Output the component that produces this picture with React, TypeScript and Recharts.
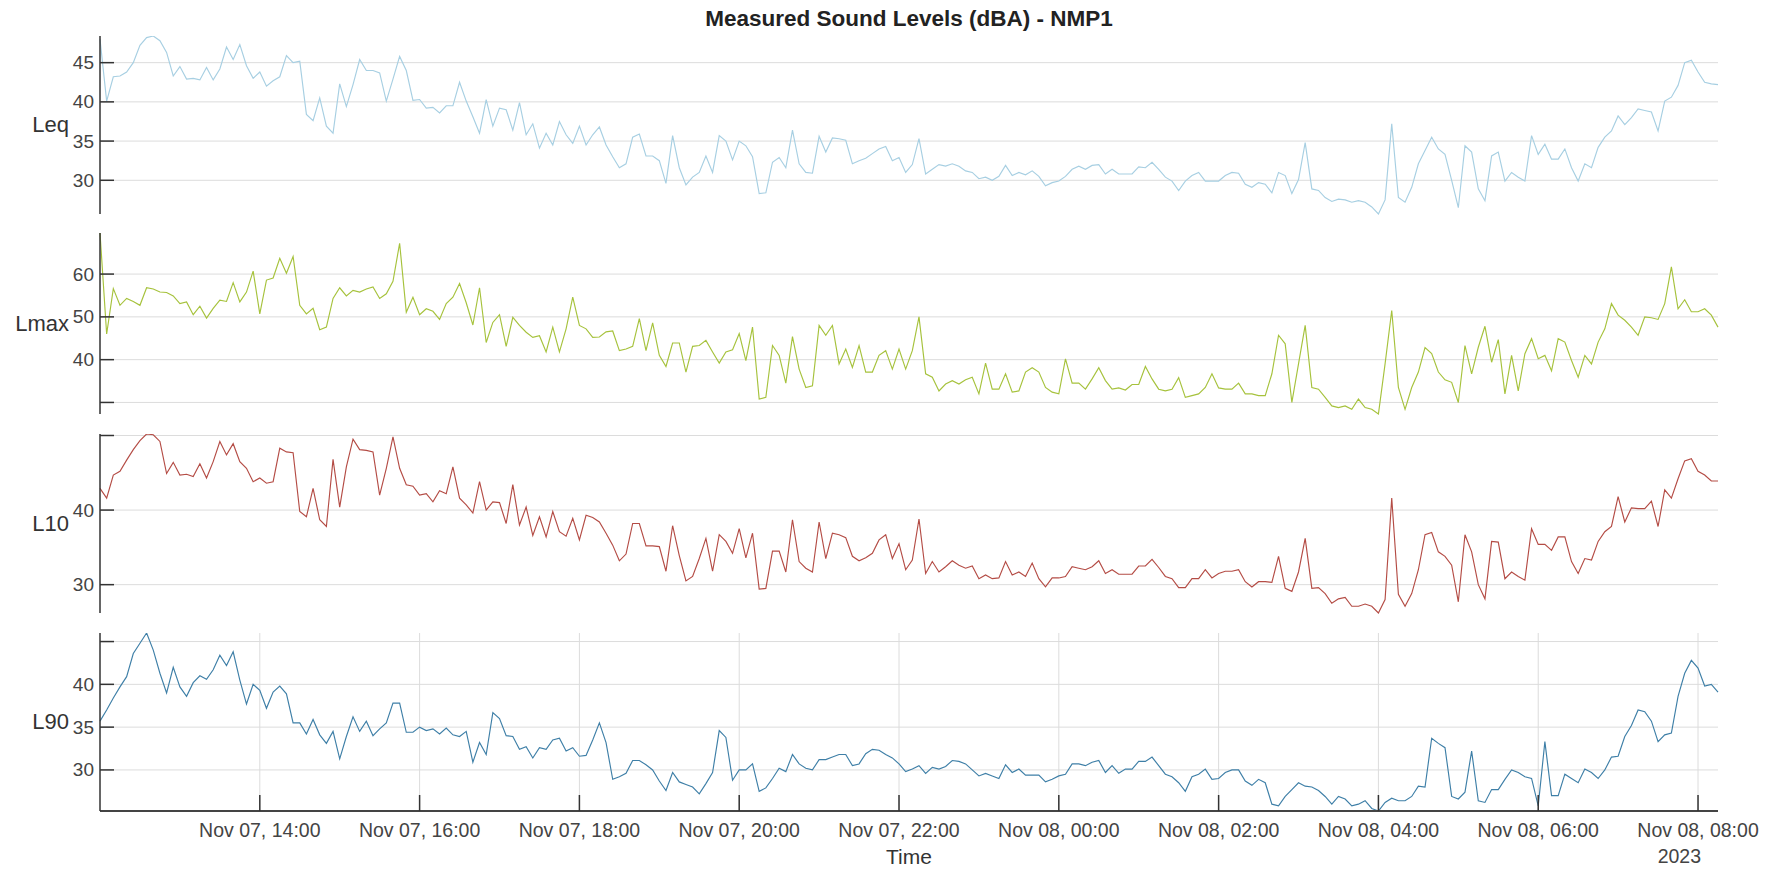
import React from 'react';
import { LineChart, Line, XAxis, YAxis, CartesianGrid } from 'recharts';

// 5-minute readings, Nov 07 12:00 -> Nov 08 08:15
const STEP_MIN = 5;

const leq = [
  48.0, 40.1, 43.2, 43.3, 43.8, 45.0, 47.2, 48.2, 48.4, 47.8, 46.3, 43.3,
  44.5, 42.9, 43.0, 42.8, 44.4, 42.8, 44.2, 47.0, 45.4, 47.3, 44.6, 43.0,
  43.8, 42.0, 42.7, 43.2, 45.9, 45.0, 45.2, 38.4, 37.6, 40.5, 36.9, 36.0,
  42.3, 39.4, 42.2, 45.4, 44.0, 44.0, 43.7, 40.1, 42.9, 45.8, 44.0, 40.2,
  40.3, 39.2, 39.3, 38.6, 39.5, 39.5, 42.5, 40.1, 38.1, 36.0, 40.3, 36.9,
  39.2, 39.0, 36.4, 39.9, 35.8, 37.2, 34.1, 36.0, 34.5, 37.5, 35.8, 34.7,
  36.9, 34.5, 35.8, 36.8, 34.5, 33.0, 31.6, 32.1, 35.5, 35.9, 33.1, 33.1,
  32.5, 29.6, 35.7, 31.6, 29.4, 30.4, 31.0, 33.1, 31.0, 35.7, 35.0, 32.6,
  35.0, 34.4, 33.0, 28.3, 28.4, 32.3, 32.9, 31.6, 36.4, 32.1, 31.0, 30.9,
  35.6, 33.6, 35.4, 35.3, 35.1, 32.1, 32.5, 32.8, 33.4, 34.0, 34.3, 32.5,
  32.9, 31.0, 32.0, 35.3, 30.8, 31.4, 32.0, 31.8, 32.1, 31.8, 31.2, 31.0,
  30.2, 30.4, 30.0, 30.5, 31.9, 30.6, 31.0, 30.7, 31.2, 30.5, 29.3, 29.7,
  29.9, 30.5, 31.4, 31.8, 31.4, 31.9, 32.0, 30.8, 31.4, 30.8, 30.8, 30.8,
  31.7, 31.6, 32.3, 31.4, 30.4, 29.9, 28.7, 29.9, 30.6, 31.0, 29.9, 29.9,
  29.9, 30.6, 31.0, 30.9, 29.5, 29.1, 29.7, 29.5, 28.4, 31.0, 30.6, 28.3,
  30.1, 34.8, 28.9, 28.7, 27.8, 27.3, 27.6, 27.5, 27.2, 27.4, 27.2, 26.6,
  25.7, 27.5, 37.2, 27.8, 27.2, 29.1, 32.1, 33.8, 35.5, 34.0, 33.3, 30.0,
  26.5, 34.4, 33.6, 28.9, 27.4, 33.1, 33.6, 29.9, 31.0, 30.4, 29.9, 35.7,
  33.3, 34.6, 32.7, 32.7, 34.0, 31.6, 29.9, 32.1, 31.6, 34.2, 35.5, 36.3,
  38.2, 37.1, 38.0, 39.1, 38.9, 38.7, 36.3, 40.1, 40.6, 42.1, 45.0, 45.3,
  43.8, 42.5, 42.3, 42.2,
];

const lmax = [
  69.6, 46.0, 56.6, 52.7, 54.3, 53.6, 52.7, 56.8, 56.5, 55.8, 55.7, 54.9,
  53.1, 53.5, 50.5, 52.5, 49.7, 52.0, 53.9, 53.6, 58.0, 53.5, 55.8, 60.7,
  50.7, 58.6, 59.1, 63.7, 60.2, 64.1, 52.7, 50.7, 52.0, 47.0, 47.6, 54.3,
  56.8, 54.9, 56.2, 55.8, 56.5, 57.0, 54.3, 55.4, 58.3, 67.2, 51.1, 54.6,
  50.5, 51.9, 51.3, 49.4, 53.1, 54.6, 57.8, 53.3, 48.1, 56.8, 44.0, 48.7,
  50.5, 43.1, 49.9, 48.0, 46.4, 45.2, 45.6, 41.8, 47.6, 41.8, 47.2, 54.6,
  48.0, 47.2, 45.2, 45.3, 46.5, 46.7, 42.1, 42.5, 43.1, 49.6, 42.1, 48.6,
  41.0, 38.4, 43.9, 43.9, 37.1, 43.1, 43.3, 44.5, 41.8, 39.2, 41.8, 42.3,
  46.1, 39.8, 47.6, 30.8, 31.2, 43.3, 41.0, 34.5, 45.4, 37.8, 33.5, 33.9,
  48.0, 45.7, 48.0, 39.0, 42.5, 38.2, 43.3, 37.1, 37.1, 41.0, 42.1, 37.8,
  42.5, 37.8, 42.1, 50.0, 36.7, 35.9, 32.7, 34.3, 35.1, 34.3, 35.3, 35.9,
  32.0, 39.2, 33.1, 33.1, 36.7, 32.4, 32.7, 37.1, 38.1, 37.1, 33.5, 32.4,
  32.0, 40.2, 34.5, 34.5, 33.1, 35.5, 38.1, 35.1, 33.1, 33.4, 32.9, 34.2,
  34.2, 38.4, 35.5, 33.1, 32.7, 33.1, 35.8, 31.2, 31.6, 32.0, 33.5, 36.7,
  33.4, 33.1, 33.1, 34.5, 32.0, 32.0, 31.6, 31.6, 36.7, 45.7, 43.7, 30.0,
  39.0, 48.0, 33.5, 33.1, 31.2, 29.2, 28.8, 29.2, 28.4, 30.8, 28.8, 28.4,
  27.3, 39.0, 51.5, 33.5, 28.4, 33.5, 37.1, 42.8, 41.4, 37.1, 35.3, 34.7,
  30.0, 43.3, 36.7, 42.9, 47.8, 39.4, 44.7, 32.0, 41.0, 32.7, 41.4, 44.9,
  40.2, 41.0, 37.4, 44.9, 44.1, 39.8, 35.9, 41.0, 39.0, 44.1, 47.2, 53.1,
  50.4, 49.2, 47.6, 45.7, 50.0, 49.8, 49.4, 53.1, 61.7, 51.9, 54.0, 51.2,
  51.2, 51.9, 50.4, 47.6,
];

const l10 = [
  42.9, 41.6, 44.7, 45.2, 46.7, 48.1, 49.3, 50.2, 50.1, 49.2, 44.9, 46.4,
  44.7, 44.8, 44.5, 46.2, 44.3, 46.5, 49.2, 47.4, 48.9, 46.5, 45.6, 43.8,
  44.3, 43.6, 43.8, 48.3, 47.8, 47.7, 39.8, 39.1, 42.9, 38.7, 37.8, 46.8,
  40.4, 45.8, 49.5, 48.1, 48.0, 47.8, 42.0, 45.6, 49.8, 45.6, 43.4, 43.2,
  42.0, 42.2, 41.1, 42.6, 42.2, 45.8, 41.6, 40.7, 39.6, 43.8, 40.0, 41.1,
  41.0, 38.2, 43.4, 38.0, 40.4, 36.6, 39.1, 36.4, 39.8, 37.1, 36.5, 38.9,
  36.0, 39.3, 39.0, 38.4, 36.9, 35.3, 33.2, 34.1, 38.2, 38.2, 35.2, 35.2,
  35.1, 31.8, 37.9, 33.9, 30.5, 31.1, 33.5, 36.2, 31.8, 36.7, 35.8, 34.2,
  37.5, 33.6, 36.9, 29.4, 29.5, 34.5, 34.5, 31.7, 38.7, 33.1, 32.2, 31.7,
  38.4, 33.5, 36.9, 36.7, 36.3, 33.8, 33.2, 33.6, 34.2, 36.0, 36.7, 33.5,
  35.5, 32.0, 33.3, 38.8, 31.5, 33.1, 31.7, 32.4, 33.2, 32.6, 32.2, 32.5,
  30.8, 31.3, 30.8, 30.9, 33.1, 31.3, 31.7, 31.1, 32.9, 30.8, 29.7, 30.9,
  30.9, 31.1, 32.4, 32.2, 32.0, 32.4, 33.2, 31.5, 32.0, 31.4, 31.4, 31.4,
  32.5, 32.5, 33.4, 32.3, 31.1, 30.8, 29.6, 29.6, 30.8, 30.8, 32.0, 30.9,
  31.5, 31.8, 31.8, 32.0, 30.4, 29.7, 30.4, 30.4, 30.3, 33.8, 29.5, 29.1,
  31.7, 36.2, 29.5, 29.6, 28.8, 27.5, 28.1, 28.3, 27.1, 27.1, 27.4, 27.1,
  26.2, 28.0, 41.6, 28.7, 27.1, 28.8, 32.0, 36.7, 37.0, 34.4, 33.8, 32.6,
  27.7, 36.7, 34.4, 30.0, 28.1, 35.8, 35.7, 30.8, 31.7, 31.1, 30.6, 37.5,
  35.4, 35.4, 34.6, 36.4, 36.4, 33.1, 31.5, 33.5, 33.3, 35.8, 37.1, 37.8,
  41.8, 38.4, 40.3, 40.2, 40.2, 41.2, 37.8, 42.7, 41.6, 44.2, 46.6, 46.9,
  45.2, 44.7, 43.9, 43.9,
];

const l90 = [
  35.7, 37.0, 38.4, 39.7, 40.9, 43.6, 44.8, 46.0, 44.0, 41.3, 39.0, 42.0,
  39.7, 38.6, 40.2, 41.0, 40.6, 41.7, 43.4, 42.2, 43.8, 40.5, 37.7, 40.0,
  39.3, 37.2, 39.1, 39.8, 38.9, 35.5, 35.5, 34.2, 35.9, 34.1, 33.1, 34.5,
  31.3, 33.9, 36.2, 34.5, 35.7, 34.0, 34.8, 35.5, 37.8, 37.8, 34.4, 34.4,
  35.0, 34.6, 34.8, 34.2, 34.9, 34.1, 33.9, 34.5, 30.9, 33.2, 31.8, 36.7,
  36.0, 34.0, 33.9, 32.4, 32.7, 31.4, 32.6, 32.4, 33.5, 33.7, 32.2, 32.6,
  31.6, 31.7, 33.5, 35.5, 33.2, 28.9, 29.2, 29.6, 31.1, 31.1, 30.6, 30.0,
  28.7, 27.6, 29.7, 28.6, 28.3, 28.0, 27.2, 28.4, 29.7, 34.6, 33.8, 28.8,
  30.0, 30.0, 30.7, 27.5, 27.9, 29.0, 30.2, 29.8, 31.8, 30.7, 30.2, 30.0,
  31.2, 31.2, 31.5, 31.8, 31.8, 30.5, 30.7, 31.9, 32.4, 32.3, 31.8, 31.4,
  30.7, 29.8, 30.1, 30.5, 29.6, 30.3, 30.1, 30.4, 31.1, 31.0, 30.7, 30.0,
  29.3, 29.6, 29.3, 29.0, 30.6, 29.7, 30.1, 29.4, 29.4, 29.4, 28.6, 28.9,
  29.3, 29.5, 30.7, 30.7, 30.5, 30.9, 31.1, 29.7, 30.5, 29.6, 30.1, 30.1,
  31.0, 31.0, 31.5, 30.5, 29.5, 29.2, 28.5, 27.5, 29.2, 29.5, 30.1, 28.9,
  29.0, 29.7, 30.0, 30.0, 28.7, 28.2, 28.9, 28.5, 26.0, 25.8, 26.9, 27.7,
  28.5, 28.1, 28.0, 27.6, 26.9, 26.0, 26.9, 26.6, 25.8, 26.0, 26.4, 25.5,
  25.2, 26.2, 26.7, 26.4, 26.4, 26.9, 28.1, 28.0, 33.7, 33.1, 32.6, 26.9,
  26.6, 27.4, 32.2, 26.4, 26.2, 27.7, 27.7, 28.9, 30.0, 29.7, 29.2, 29.0,
  25.8, 33.3, 27.0, 27.0, 29.5, 29.0, 28.5, 30.1, 29.7, 29.0, 30.0, 31.5,
  31.6, 33.9, 35.2, 37.0, 36.8, 35.7, 33.3, 34.1, 34.3, 38.6, 41.3, 42.8,
  41.9, 39.8, 40.0, 39.1,
];

// x ticks in minutes after Nov 07 12:00
const xTicks = [120, 240, 360, 480, 600, 720, 840, 960, 1080, 1200];
const xTickLabels = [
  'Nov 07, 14:00', 'Nov 07, 16:00', 'Nov 07, 18:00', 'Nov 07, 20:00', 'Nov 07, 22:00',
  'Nov 08, 00:00', 'Nov 08, 02:00', 'Nov 08, 04:00', 'Nov 08, 06:00', 'Nov 08, 08:00',
];
const yearLabel = '2023';

const FONT = 'Arial, "Liberation Sans", Helvetica, sans-serif';
const W = 1775;
const PLOT_LEFT = 100;
const PLOT_RIGHT = 1718;

const data = leq.map((v, i) => ({
  t: i * STEP_MIN,
  leq: v,
  lmax: lmax[i],
  l10: l10[i],
  l90: l90[i],
}));

const panels = [
  { key: 'leq', name: 'Leq', color: '#a7cfe2', ticks: [30, 35, 40, 45], labeled: [30, 35, 40, 45], top: 36, h: 178 },
  { key: 'lmax', name: 'Lmax', color: '#a6c23c', ticks: [30, 40, 50, 60], labeled: [40, 50, 60], top: 233, h: 181 },
  { key: 'l10', name: 'L10', color: '#b44c45', ticks: [30, 40, 50], labeled: [30, 40], top: 434, h: 179 },
  { key: 'l90', name: 'L90', color: '#3e7fa7', ticks: [30, 35, 40, 45], labeled: [30, 35, 40], top: 633, h: 178 },
];

function YTick(props: any) {
  const { x, y, payload, labeled } = props;
  const show = labeled.includes(payload.value);
  return (
    <g>
      <line x1={x} x2={x + 14} y1={y} y2={y} stroke="#333" strokeWidth={1.5} />
      {show && (
        <text x={x - 6} y={y} textAnchor="end" dominantBaseline="central" fontSize={19} fill="#444" fontFamily={FONT}>
          {payload.value}
        </text>
      )}
    </g>
  );
}

function XTick(props: any) {
  const { x, y, payload } = props;
  const idx = xTicks.indexOf(payload.value);
  return (
    <g>
      <line x1={x} x2={x} y1={y} y2={y - 16} stroke="#333" strokeWidth={1.5} />
      <text x={x} y={y + 26} textAnchor="middle" fontSize={19.5} fill="#444" fontFamily={FONT}>
        {xTickLabels[idx]}
      </text>
      {idx === xTicks.length - 1 && (
        <text x={x + 3} y={y + 52} textAnchor="end" fontSize={19.5} fill="#444" fontFamily={FONT}>
          {yearLabel}
        </text>
      )}
    </g>
  );
}

export default function App() {
  return (
    <div style={{ position: 'absolute', left: 0, top: 0, width: W, height: 875, background: '#fff', fontFamily: FONT }}>
      <div
        style={{
          position: 'absolute', left: PLOT_LEFT, width: PLOT_RIGHT - PLOT_LEFT, top: 6,
          textAlign: 'center', fontWeight: 'bold', fontSize: 22.5, color: '#222',
        }}
      >
        Measured Sound Levels (dBA) - NMP1
      </div>

      {panels.map((p, pi) => {
        const last = pi === panels.length - 1;
        const xh = last ? 70 : 1;
        return (
          <div key={p.key} style={{ position: 'absolute', left: 0, top: p.top }}>
            <div
              style={{
                position: 'absolute', left: 0, width: 69, top: p.h / 2 - 13, textAlign: 'right',
                fontSize: 22, color: '#333', lineHeight: '26px',
              }}
            >
              {p.name}
            </div>
            <LineChart width={W} height={p.h + xh} data={data} margin={{ top: 0, right: W - PLOT_RIGHT, bottom: 0, left: 0 }}>
              <CartesianGrid stroke="#dcdcdc" strokeWidth={1} syncWithTicks />
              <XAxis
                dataKey="t"
                type="number"
                domain={[0, (leq.length - 1) * STEP_MIN]}
                ticks={xTicks}
                height={xh}
                tickSize={0}
                tickMargin={0}
                axisLine={last ? { stroke: '#444', strokeWidth: 2 } : false}
                tickLine={false}
                tick={last ? (tp: any) => <XTick {...tp} /> : false}
                interval={0}
              />
              <YAxis
                type="number"
                domain={['dataMin', 'dataMax']}
                ticks={p.ticks}
                width={PLOT_LEFT}
                tickSize={0}
                tickMargin={0}
                axisLine={{ stroke: '#333', strokeWidth: 1.5 }}
                tickLine={false}
                tick={(tp: any) => <YTick {...tp} labeled={p.labeled} />}
                interval={0}
              />
              <Line
                type="linear"
                dataKey={p.key}
                stroke={p.color}
                strokeWidth={1.15}
                dot={false}
                activeDot={false}
                isAnimationActive={false}
              />
            </LineChart>
          </div>
        );
      })}

      <div style={{ position: 'absolute', left: PLOT_LEFT, width: PLOT_RIGHT - PLOT_LEFT, top: 845, textAlign: 'center', fontSize: 21, color: '#333' }}>
        Time
      </div>
    </div>
  );
}
